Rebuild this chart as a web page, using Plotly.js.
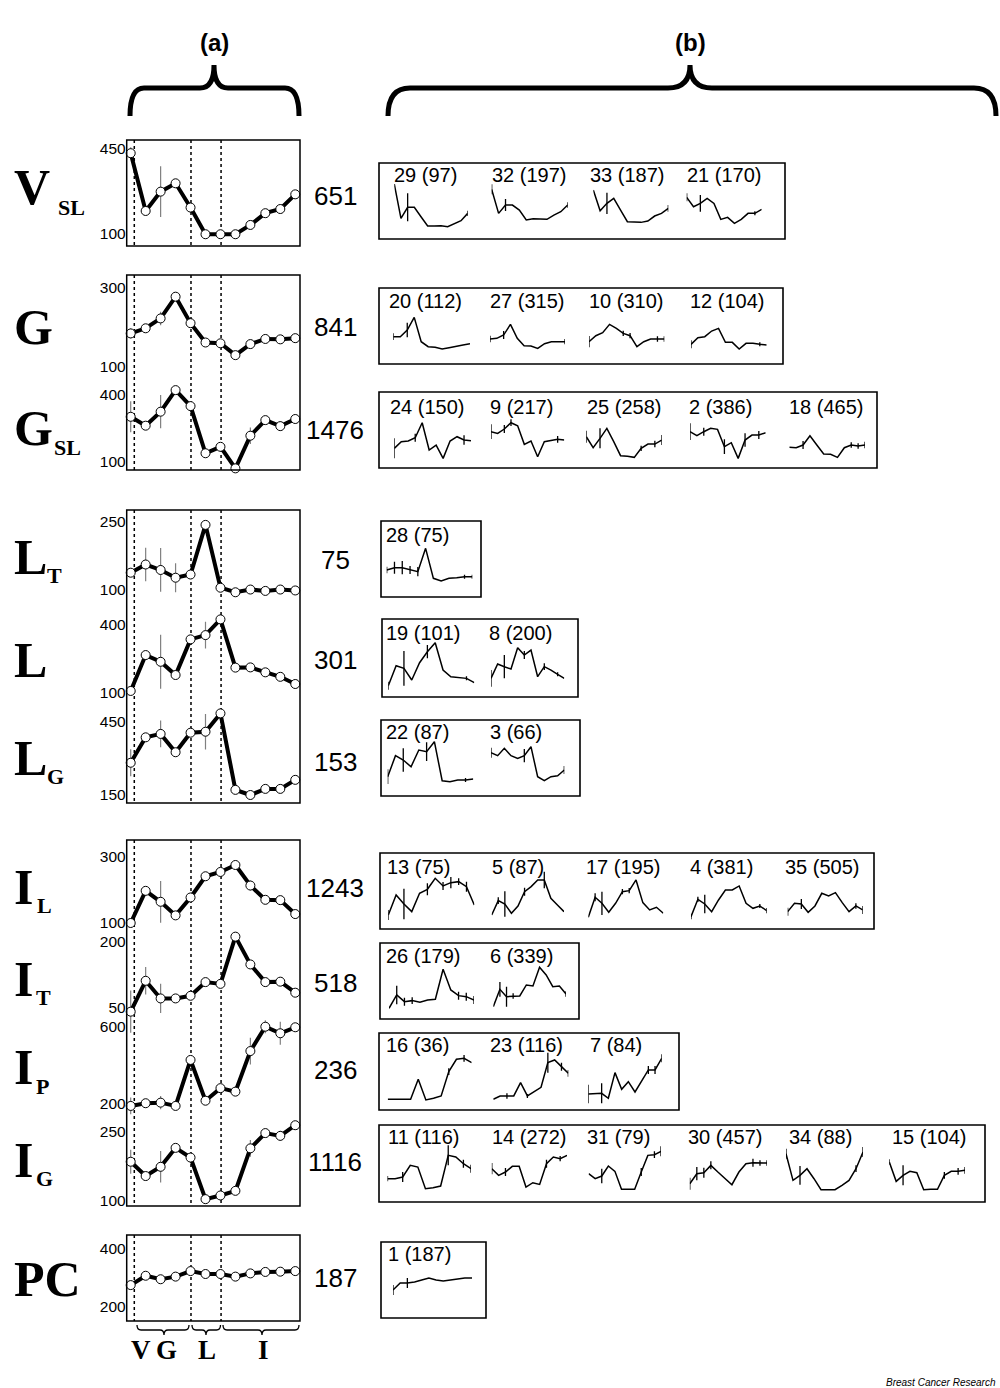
<!DOCTYPE html>
<html><head><meta charset="utf-8">
<script src="https://cdn.plot.ly/plotly-3.0.1.min.js"></script>
<style>body{margin:0;background:#fff}</style>
</head><body><div id="chart" style="width:1000px;height:1388px"></div>
<script>
// ---------------- DATA ----------------
const timePoints = [0,1,2,3,4,5,6,7,8,9,10,11];

// (a) mean expression profiles of the main clusters
const VSL = [430,194,273,307,208,99,99,99,137,185,202,262];
const VSL_err = [24,0,104,0,0,0,0,0,0,0,14,16];
const G = [185,198,223,278,211,162,160,130,158,171,170,173];
const G_err = [13,0,17,0,0,0,0,0,0,0,0,0];
const GSL = [302,262,325,422,350,138,167,70,217,287,260,292];
const GSL_err = [70,0,75,12,0,12,0,0,37,0,22,15];
const LT = [138,156,144,127,134,243,105,95,101,98,101,99];
const LT_err = [9,37,48,32,0,6,0,0,0,0,0,0];
const L = [106,266,236,177,336,355,425,210,211,189,169,137];
const L_err = [15,0,120,0,0,60,0,0,12,0,0,0];
const LG = [282,386,400,325,405,409,484,171,150,175,175,212];
const LG_err = [55,0,55,0,0,73,0,0,0,0,0,16];
const IL = [100,197,164,123,177,241,254,275,213,170,169,127];
const IL_err = [0,0,63,0,0,0,0,0,15,0,0,0];
const IT = [41,111,71,71,77,108,104,211,148,108,109,84];
const IT_err = [48,31,33,7,0,0,0,0,0,0,9,6];
const IP = [190,204,207,190,428,217,282,264,474,600,566,597];
const IP_err = [43,0,34,0,0,0,0,0,69,34,60,0];
const IG = [185,154,174,215,194,104,112,122,214,247,241,264];
const IG_err = [26,0,34,0,0,0,0,0,18,0,11,9];
const PC = [274,306,294,303,322,312,312,303,314,319,320,322];
const PC_err = [14,0,0,0,0,0,0,0,0,0,0,0];

const rowMain = ['V','G','G','L','L','L','I','I','I','I','PC'];
const rowSub  = ['SL','','SL','T','','G','L','T','P','G',''];
const rowCounts = [651,841,1476,75,301,153,1243,518,236,1116,187];
const tickHigh = [450,300,400,250,400,450,300,200,600,250,400];
const tickLow  = [100,100,100,100,100,150,100,50,200,100,200];
const stageLabels = ['V','G','L','I'];

// (b) sub-cluster profiles: id, size, relative levels, error bars
const b1_ids=[29,32,33,21], b1_n=[97,197,187,170];
const b1_vals=[[143,40,73,73,45,17,17,18,15,25,33,55],[127,55,80,80,65,35,39,38,37,50,60,80],[125,63,85,100,65,30,29,28,32,47,55,70],[103,75,85,100,85,37,43,25,37,55,55,67]];
const b1_err=[[0,0,42,0,0,0,0,0,0,0,0,8],[15,0,18,0,0,0,0,0,0,0,0,8],[0,0,32,0,0,0,0,0,0,0,0,10],[12,0,25,0,0,0,0,0,0,0,6,0]];

const b2_ids=[20,27,10,12], b2_n=[112,315,310,104];
const b2_vals=[[45,45,65,103,30,15,13,8,12,17,20,24],[38,40,50,82,40,18,17,10,24,30,30,30],[30,48,57,82,70,55,48,15,30,38,38,38],[22,42,45,62,70,28,28,8,25,25,22,20]];
const b2_err=[[10,0,22,0,0,0,0,0,0,0,0,0],[10,0,12,0,0,0,0,0,0,0,0,8],[17,0,0,0,0,8,8,0,0,0,8,8],[12,0,0,0,0,0,0,0,0,0,6,0]];

const b3_ids=[24,9,25,2,18], b3_n=[150,217,258,386,465];
const b3_vals=[[40,60,62,72,117,35,50,10,62,75,65,63],[90,85,98,117,108,52,62,15,60,63,67,65],[75,42,70,100,60,18,16,13,40,53,53,65],[90,78,90,100,97,45,57,10,65,80,80,87],[43,42,50,78,50,23,22,13,42,50,47,50]];
const b3_err=[[30,0,0,12,0,0,0,0,0,0,14,0],[22,0,12,10,0,0,0,0,0,0,10,0],[18,0,30,0,0,0,0,0,8,0,10,15],[25,0,12,0,0,22,0,0,20,0,12,0],[0,0,12,0,0,0,0,0,0,8,8,10]];

const b4_ids=[28], b4_n=[75];
const b4_vals=[[45,52,52,45,40,110,20,12,20,22,25,25]];
const b4_err=[[10,18,20,12,14,0,0,0,0,0,6,6]];

const b5_ids=[19,8], b5_n=[101,200];
const b5_vals=[[18,78,70,35,87,120,147,65,45,42,40,27],[40,83,75,68,132,110,125,45,75,65,52,40]];
const b5_err=[[12,0,52,0,0,20,0,0,0,0,6,0],[25,0,35,0,0,12,0,0,10,0,6,0]];

const b6_ids=[22,3], b6_n=[87,66];
const b6_vals=[[45,108,95,75,125,120,150,33,30,35,35,38],[117,108,130,108,100,108,135,45,33,45,48,65]];
const b6_err=[[22,0,35,0,0,28,0,0,0,0,6,0],[15,0,0,0,0,20,0,0,0,0,0,12]];

const b7_ids=[13,5,17,4,35], b7_n=[75,87,195,381,505];
const b7_vals=[[25,85,58,35,90,102,135,112,122,125,110,55],[25,68,58,30,52,95,110,130,130,75,55,35],[18,78,60,33,60,95,98,130,62,40,48,30],[20,72,58,35,70,100,100,112,60,45,52,38],[35,60,58,33,52,90,82,92,62,35,52,40]];
const b7_err=[[15,0,46,0,0,18,0,12,17,10,15,0],[0,10,38,0,0,12,0,0,25,0,0,0],[0,12,35,0,0,8,8,0,0,0,0,0],[8,8,28,0,0,0,0,0,0,0,6,8],[12,0,15,0,0,0,0,0,0,0,8,12]];

const b8_ids=[26,6], b8_n=[179,339];
const b8_vals=[[15,55,35,38,33,40,42,132,70,53,50,40],[20,72,50,52,52,85,82,138,115,80,82,58]];
const b8_err=[[0,28,12,10,0,0,0,0,0,12,12,12],[0,22,30,8,0,0,0,0,0,0,0,8]];

const b9_ids=[16,23,7], b9_n=[36,116,84];
const b9_vals=[[12,12,12,12,72,10,15,22,95,132,135,122],[12,22,22,22,62,22,35,48,122,130,110,90],[28,28,30,15,92,42,65,34,65,100,100,135]];
const b9_err=[[0,0,0,0,0,0,0,0,10,0,10,0],[0,0,8,0,0,6,0,0,30,0,12,10],[28,0,30,0,0,0,0,0,0,12,12,12]];

const b10_ids=[11,14,31,30,34,15], b10_n=[116,272,79,457,88,104];
const b10_vals=[[45,45,50,85,80,15,18,23,115,110,90,75],[75,55,65,82,82,20,33,28,90,110,105,115],[60,45,53,83,67,13,13,13,65,115,117,127],[30,60,63,85,65,45,27,65,90,93,92,92],[120,40,55,75,45,12,12,12,25,40,75,125],[95,37,55,67,63,12,13,13,55,67,67,70]];
const b10_err=[[8,0,15,0,0,0,0,0,30,0,12,12],[17,0,12,0,0,0,0,0,12,0,8,0],[0,0,22,0,0,0,0,0,12,0,10,15],[18,20,15,12,0,0,0,0,0,12,8,8],[15,0,28,0,0,0,0,0,0,0,10,15],[8,0,30,0,0,0,0,0,10,0,10,10]];

const b11_ids=[1], b11_n=[187];
const b11_vals=[[30,51,51,54,60,66,60,57,60,63,66,66]];
const b11_err=[[15,0,15,0,0,0,0,0,0,0,0,0]];

// ---------------- LAYOUT GEOMETRY ----------------
const W=1000, H=1388;
const seriesVals=[VSL,G,GSL,LT,L,LG,IL,IT,IP,IG,PC];
const seriesErr=[VSL_err,G_err,GSL_err,LT_err,L_err,LG_err,IL_err,IT_err,IP_err,IG_err,PC_err];
const pxHigh=[148.3,288,395,521.7,625,721.7,856.7,941.5,1026.7,1131.7,1248.3];
const pxLow=[234,367,461.7,590,692.3,795,923,1007.7,1104,1201,1306.7];
const frameOf=[0,1,1,2,2,2,3,3,3,3,4];
const frames=[[140,246],[275,470],[510,803],[840,1206],[1235,1321]];
const fx0=126.7, fx1=300, x0px=130.7, dxpx=14.96;
const dividers=[0.24,4.03,6.04];
const labelCenters=[[186.5,207.5,56],[327],[427.5,447.5,52],[557,575,45],[659.5],[757.5,776.5,45],[887,905,35],[978.5,997.5,34],[1066.5,1086,34],[1159.5,1178.5,34],[1278.5]];
const countY=[196,327,430,560,660,762,888,983,1070,1162,1278];

const boxes=[
 {ids:b1_ids,n:b1_n,v:b1_vals,e:b1_err,rect:[379,163,785,239],ly:175,lx:[391.7,490,588,685],sx:[394.3,491.7,593.3,686.7],ex:[467.7,567.7,668.3,761.7],p1:231.7},
 {ids:b2_ids,n:b2_n,v:b2_vals,e:b2_err,rect:[379,288,783,364],ly:301,lx:[386.7,488.3,586.7,688.3],sx:[393.3,490,589,691],ex:[470,565,664.3,766.7],p1:351.7},
 {ids:b3_ids,n:b3_n,v:b3_vals,e:b3_err,rect:[379,392,877,468],ly:406.7,lx:[388.3,488.3,585,686.7,786.7],sx:[394.3,491,586.3,690,789.3],ex:[471,564.3,661.7,765.7,865],p1:461.7},
 {ids:b4_ids,n:b4_n,v:b4_vals,e:b4_err,rect:[381,521,481,597],ly:535,lx:[384.3],sx:[386.7],ex:[472.3],p1:585},
 {ids:b5_ids,n:b5_n,v:b5_vals,e:b5_err,rect:[382,619,578,697],ly:633.3,lx:[384.3,486.7],sx:[388.3,491],ex:[474.3,564.3],p1:691.7},
 {ids:b6_ids,n:b6_n,v:b6_vals,e:b6_err,rect:[381,720,580,796],ly:731.7,lx:[384.3,487.7],sx:[387.7,491],ex:[473.3,564.3],p1:791.7},
 {ids:b7_ids,n:b7_n,v:b7_vals,e:b7_err,rect:[380,853,874,929],ly:866.7,lx:[385,490,584.3,688.3,783.3],sx:[388.3,491.7,588.3,691,787.7],ex:[474.3,564,663.3,766.7,862.7],p1:923.3},
 {ids:b8_ids,n:b8_n,v:b8_vals,e:b8_err,rect:[380,943,579,1019],ly:956,lx:[384.3,488.3],sx:[389,493.3],ex:[474,566],p1:1013.3},
 {ids:b9_ids,n:b9_n,v:b9_vals,e:b9_err,rect:[379,1033,679,1110],ly:1045,lx:[384.3,488.3,587.7],sx:[387.7,493.3,588.3],ex:[471.7,568.3,661.7],p1:1103.3},
 {ids:b10_ids,n:b10_n,v:b10_vals,e:b10_err,rect:[379,1125,985,1202],ly:1137,lx:[386,490,585,686,787,890],sx:[387.5,491.8,588.6,689.8,786,889.3],ex:[471,567,661,767,863,965],p1:1193.7},
 {ids:b11_ids,n:b11_n,v:b11_vals,e:b11_err,rect:[381,1242,486,1318],ly:1254,lx:[386],sx:[393],ex:[472],p1:1300}
];

// ---------------- BUILD ----------------
const SANS='Liberation Sans, Arial, sans-serif';
const SERIF='Liberation Serif, Times New Roman, serif';
const traces=[{type:'scatter',x:[0],y:[0],mode:'markers',marker:{opacity:0},xaxis:'x',yaxis:'y',hoverinfo:'skip'}];
const layout={width:W,height:H,margin:{l:0,r:0,t:0,b:0},paper_bgcolor:'#fff',plot_bgcolor:'rgba(0,0,0,0)',showlegend:false,
  xaxis:{domain:[0,1],range:[0,W],visible:false,fixedrange:true},
  yaxis:{domain:[0,1],range:[H,0],visible:false,fixedrange:true},
  shapes:[],annotations:[]};
let ax=2;
const ydom=(a,b)=>[1-b/H,1-a/H];

// (a) profiles
seriesVals.forEach((vals,i)=>{
  const f=frames[frameOf[i]];
  const k=(tickHigh[i]-tickLow[i])/(pxLow[i]-pxHigh[i]);
  const rTop=tickHigh[i]+(pxHigh[i]-f[0])*k;
  const rBot=tickLow[i]-(f[1]-pxLow[i])*k;
  layout['xaxis'+ax]={domain:[fx0/W,fx1/W],range:[(fx0-x0px)/dxpx,(fx1-x0px)/dxpx],visible:false,fixedrange:true,anchor:'y'+ax};
  layout['yaxis'+ax]={domain:ydom(f[0],f[1]),range:[rBot,rTop],anchor:'x'+ax,tickvals:[tickLow[i],tickHigh[i]],ticks:'',
    showgrid:false,zeroline:false,showline:false,tickfont:{family:SANS,size:15.5,color:'#000'},fixedrange:true};
  traces.push({type:'scatter',mode:'lines+markers',x:timePoints,y:vals,xaxis:'x'+ax,yaxis:'y'+ax,
    line:{color:'#000',width:4},marker:{size:9,color:'#fff',line:{color:'#000',width:1}},
    error_y:{type:'data',array:seriesErr[i],visible:true,color:'#808080',thickness:1.2,width:0},cliponaxis:false,hoverinfo:'skip'});
  ax++;
  // row label
  const lc=labelCenters[i];
  layout.annotations.push({xref:'x',yref:'y',x:12,y:lc[0],xanchor:'left',yanchor:'middle',showarrow:false,
    text:'<b>'+rowMain[i]+'</b>',font:{family:SERIF,size:50,color:'#000'}});
  if(rowSub[i]) layout.annotations.push({xref:'x',yref:'y',x:lc[2],y:lc[1],xanchor:'left',yanchor:'middle',showarrow:false,
    text:'<b>'+rowSub[i]+'</b>',font:{family:SERIF,size:22,color:'#000'}});
  layout.annotations.push({xref:'x',yref:'y',x:335,y:countY[i],xanchor:'center',yanchor:'middle',showarrow:false,
    text:String(rowCounts[i]),font:{family:SANS,size:26,color:'#000'}});
});

// frames and dotted dividers
frames.forEach(f=>{
  layout.shapes.push({type:'rect',xref:'x',yref:'y',x0:fx0,x1:fx1,y0:f[0],y1:f[1],line:{color:'#000',width:1.5}});
  dividers.forEach(d=>{
    const xp=x0px+d*dxpx;
    layout.shapes.push({type:'line',layer:'below',xref:'x',yref:'y',x0:xp,x1:xp,y0:f[0],y1:f[1],line:{color:'#000',width:1.5,dash:'dot'}});
  });
});

// braces
function braceUp(lx,rx,tx,yEnd,yBar,yTip,r){
  return `M ${lx},${yEnd} Q ${lx},${yBar} ${lx+r},${yBar} L ${tx-r},${yBar} Q ${tx},${yBar} ${tx},${yTip} Q ${tx},${yBar} ${tx+r},${yBar} L ${rx-r},${yBar} Q ${rx},${yBar} ${rx},${yEnd}`;
}
layout.shapes.push({type:'path',xref:'x',yref:'y',path:braceUp(130,299,214,116,88,65,14),line:{color:'#000',width:5}});
layout.shapes.push({type:'path',xref:'x',yref:'y',path:braceUp(388,996,690,116,88,65,22),line:{color:'#000',width:5}});
layout.annotations.push({xref:'x',yref:'y',x:214,y:42,showarrow:false,text:'<b>(a)</b>',font:{family:'Liberation Sans Narrow, '+SANS,size:24,color:'#000'}});
layout.annotations.push({xref:'x',yref:'y',x:690,y:42,showarrow:false,text:'<b>(b)</b>',font:{family:'Liberation Sans Narrow, '+SANS,size:24,color:'#000'}});

// stage braces under PC
const stageSpans=[[137,189,164],[192,220.5,206],[223,299,262]];
stageSpans.forEach(s=>{
  layout.shapes.push({type:'path',xref:'x',yref:'y',path:braceUp(s[0],s[1],s[2],1325,1330,1335,4),line:{color:'#000',width:1.3}});
});
const stageX=[141,166,207,263.5];
stageLabels.forEach((t,i)=>layout.annotations.push({xref:'x',yref:'y',x:stageX[i],y:1350,showarrow:false,text:'<b>'+t+'</b>',font:{family:SERIF,size:27,color:'#000'}}));

// (b) boxes
boxes.forEach(b=>{
  layout.shapes.push({type:'rect',xref:'x',yref:'y',x0:b.rect[0],x1:b.rect[2],y0:b.rect[1],y1:b.rect[3],line:{color:'#000',width:1.6}});
  b.ids.forEach((id,j)=>{
    layout.annotations.push({xref:'x',yref:'y',x:b.lx[j],y:b.ly,xanchor:'left',yanchor:'middle',showarrow:false,
      text:id+' ('+b.n[j]+')',font:{family:SANS,size:20,color:'#000'}});
    layout['xaxis'+ax]={domain:[b.sx[j]/W,b.ex[j]/W],range:[0,11],visible:false,fixedrange:true,anchor:'y'+ax};
    layout['yaxis'+ax]={domain:ydom(b.p1-185/3,b.p1+20/3),range:[-20,185],visible:false,fixedrange:true,anchor:'x'+ax};
    traces.push({type:'scatter',mode:'lines',x:timePoints,y:b.v[j],xaxis:'x'+ax,yaxis:'y'+ax,line:{color:'#000',width:1.5},
      error_y:{type:'data',array:b.e[j],visible:true,color:'#000',thickness:1.3,width:0},hoverinfo:'skip'});
    ax++;
  });
});

layout.annotations.push({xref:'x',yref:'y',x:998,y:1382,xanchor:'right',yanchor:'middle',showarrow:false,
  text:'<i>Breast Cancer Research</i>',font:{family:SANS,size:10,color:'#000'}});

Plotly.newPlot('chart',traces,layout,{staticPlot:true});
</script></body></html>
